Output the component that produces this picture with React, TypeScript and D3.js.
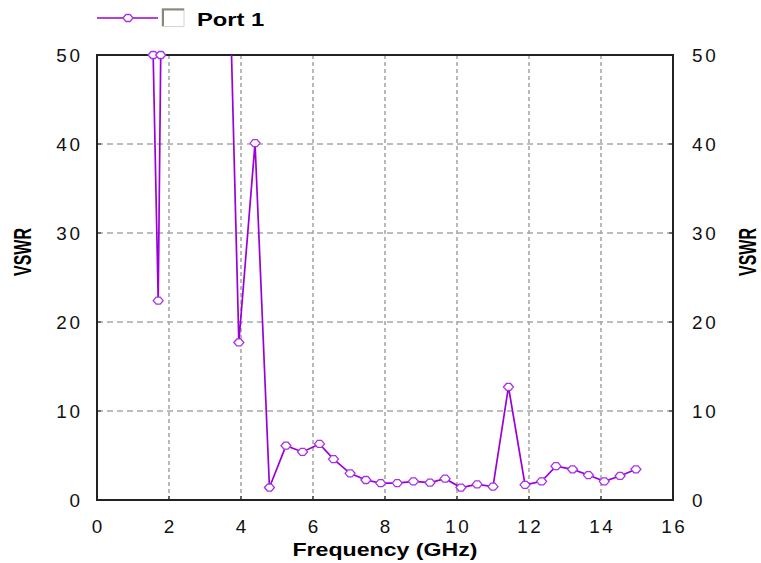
import React from 'react';
import * as d3 from 'd3';

const freqGHz = [1.56, 1.7, 1.77, 2.13, 2.57, 3.02, 3.46, 3.94, 4.39, 4.79, 5.25, 5.71, 6.18, 6.57, 7.03, 7.47, 7.88, 8.34, 8.79, 9.25, 9.67, 10.11, 10.56, 11.0, 11.43, 11.89, 12.35, 12.75, 13.21, 13.65, 14.09, 14.53, 14.97];
const vswrValues = [50, 22.4, 50, 85, 110, 120, 94, 17.7, 40.1, 1.4, 6.1, 5.4, 6.3, 4.6, 3.0, 2.25, 1.9, 1.9, 2.1, 1.95, 2.4, 1.4, 1.75, 1.5, 12.7, 1.7, 2.1, 3.8, 3.45, 2.8, 2.1, 2.7, 3.45];
const xTicks = [0, 2, 4, 6, 8, 10, 12, 14, 16];
const yTicks = [0, 10, 20, 30, 40, 50];
const seriesName = 'Port 1';
const xTitle = 'Frequency (GHz)';
const yTitle = 'VSWR';

const FONT = 'Liberation Sans, Arial, sans-serif';
const LINE = '#9b00d8';
const MARK = '#a633e6';

export default function App() {
  const x = d3.scaleLinear().domain([0, 16]).range([97, 673]);
  const y = d3.scaleLinear().domain([0, 50]).range([500, 55]);
  const pts = freqGHz.map((f, i) => ({ f, v: vswrValues[i] }));
  const line = d3.line<{ f: number; v: number }>().x(d => x(d.f)).y(d => y(d.v));
  const diamond = (cx: number, cy: number) =>
    `M${cx - 5},${cy}L${cx - 2},${cy - 3.5}L${cx + 2},${cy - 3.5}L${cx + 5},${cy}L${cx + 2},${cy + 3.5}L${cx - 2},${cy + 3.5}Z`;
  const [x0, x1] = x.range();
  const [y0, y1] = y.range();
  const sx = 1.25;
  const tsx = 1.05;
  const ls = 2.6;

  return (
    <svg width={761} height={563} style={{ position: 'absolute', left: 0, top: 0, background: '#fff' }}>
      <defs>
        <clipPath id="plot">
          <rect x={x0} y={y1} width={x1 - x0} height={y0 - y1} />
        </clipPath>
      </defs>
      {/* grid */}
      {xTicks.slice(1, -1).map(t => (
        <line key={'gx' + t} x1={x(t)} x2={x(t)} y1={y1} y2={y0} stroke="#a8a8a8" strokeWidth={1.6} strokeDasharray="4,3" />
      ))}
      {yTicks.slice(1, -1).map(t => (
        <line key={'gy' + t} x1={x0} x2={x1} y1={y(t)} y2={y(t)} stroke="#a8a8a8" strokeWidth={1.3} strokeDasharray="6,4" />
      ))}
      {/* ticks */}
      {xTicks.slice(1, -1).map(t => (
        <line key={'tx' + t} x1={x(t)} x2={x(t)} y1={y0} y2={y0 - 4} stroke="#444" strokeWidth={1.5} />
      ))}
      {yTicks.slice(1, -1).map(t => (
        <g key={'ty' + t}>
          <line x1={x0} x2={x0 + 4} y1={y(t)} y2={y(t)} stroke="#444" strokeWidth={1.3} />
          <line x1={x1} x2={x1 - 4} y1={y(t)} y2={y(t)} stroke="#444" strokeWidth={1.3} />
        </g>
      ))}
      {/* frame */}
      <rect x={x0} y={y1} width={x1 - x0} height={y0 - y1} fill="none" stroke="#222" strokeWidth={2} />
      {/* series */}
      <path d={line(pts) || ''} fill="none" stroke={LINE} strokeWidth={1.7} clipPath="url(#plot)" />
      {pts.filter(p => p.v <= 50).map((p, i) => (
        <path key={'m' + i} d={diamond(x(p.f), y(p.v))} fill="#fff" stroke={MARK} strokeWidth={1.3} />
      ))}
      {/* tick labels */}
      {xTicks.map(t => (
        <text key={'lx' + t} transform={`translate(${x(t) + ls * tsx / 2},533) scale(${tsx},1)`} textAnchor="middle" fontFamily={FONT} fontSize={18} letterSpacing={ls} fill="#111">{t}</text>
      ))}
      {yTicks.map(t => (
        <g key={'ly' + t}>
          <text transform={`translate(${80 + ls * tsx},${y(t) + 6.5}) scale(${tsx},1)`} textAnchor="end" fontFamily={FONT} fontSize={18} letterSpacing={ls} fill="#111">{t}</text>
          <text transform={`translate(692,${y(t) + 6.5}) scale(${tsx},1)`} textAnchor="start" fontFamily={FONT} fontSize={18} letterSpacing={ls} fill="#111">{t}</text>
        </g>
      ))}
      {/* axis titles */}
      <text transform={`translate(${(x0 + x1) / 2},556) scale(${sx},1)`} textAnchor="middle" fontFamily={FONT} fontSize={18.5} fontWeight="bold" fill="#000">{xTitle}</text>
      <text transform={`translate(31,252) scale(1.45,1) rotate(-90)`} textAnchor="middle" fontFamily={FONT} fontSize={16} fontWeight="bold" fill="#000">{yTitle}</text>
      <text transform={`translate(756,252) scale(1.45,1) rotate(-90)`} textAnchor="middle" fontFamily={FONT} fontSize={16} fontWeight="bold" fill="#000">{yTitle}</text>
      {/* legend */}
      <line x1={97} x2={158} y1={18} y2={18} stroke={LINE} strokeWidth={1.7} />
      <path d={diamond(128, 18)} fill="#fff" stroke={MARK} strokeWidth={1.3} />
      <rect x={162} y={8.5} width={22} height={18} fill="#fff" stroke="#d8d4cc" strokeWidth={1} />
      <path d="M163,26 L163,9.5 L184,9.5" fill="none" stroke="#8a877f" strokeWidth={2} />
      <text transform={`translate(197,26) scale(${sx},1)`} fontFamily={FONT} fontSize={19} fontWeight="bold" fill="#000">{seriesName}</text>
    </svg>
  );
}
